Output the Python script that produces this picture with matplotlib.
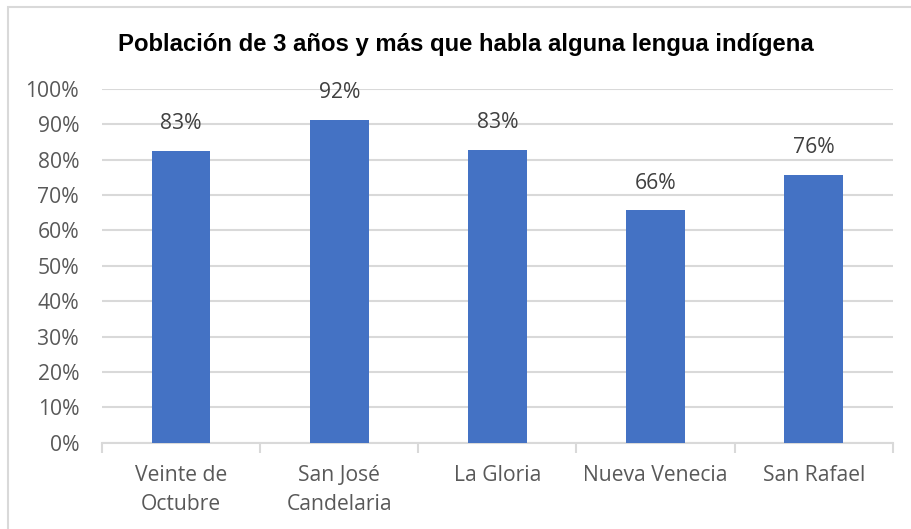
import numpy as np
import matplotlib
matplotlib.use('Agg')
import matplotlib.pyplot as plt
from matplotlib.patches import Rectangle

# data
localidades = ['Veinte de\nOctubre', 'San José\nCandelaria', 'La Gloria', 'Nueva Venecia', 'San Rafael']
porcentajes = [0.824, 0.912, 0.828, 0.657, 0.758]
etiquetas = ['83%', '92%', '83%', '66%', '76%']
yticks = [0, 0.1, 0.2, 0.3, 0.4, 0.5, 0.6, 0.7, 0.8, 0.9, 1.0]

gris = '#595959'
azul = '#4472C4'
fuente = 'Open Sans'

fig = plt.figure(figsize=(9.11, 5.29), dpi=100)
ax = fig.add_axes([0.112, 0.163, 0.868, 0.669])

x = np.arange(len(localidades))
ax.bar(x, porcentajes, width=0.37, color=azul, zorder=3)

for xi, v, t in zip(x, porcentajes, etiquetas):
    ax.annotate(t, (xi, v), xytext=(0, 12), textcoords='offset points',
                ha='center', va='bottom', fontsize=15.2, color='#404040', fontname=fuente)

ax.set_xlim(-0.5, len(localidades) - 0.5)
ax.set_ylim(0, 1.0)
ax.set_yticks(yticks)
ax.set_yticklabels(['{:.0f}%'.format(v * 100) for v in yticks], fontname=fuente, fontsize=15.2, color=gris)
ax.yaxis.grid(True, color='#D9D9D9', linewidth=1.5, zorder=0)
ax.tick_params(axis='y', length=0, pad=16.5)

ax.set_xticks(x)
ax.set_xticklabels(localidades, fontname=fuente, fontsize=15.2, color=gris, linespacing=1.5)
ax.set_xticks(np.arange(-0.5, len(localidades)), minor=True)
ax.tick_params(axis='x', which='major', length=0, pad=16)
ax.tick_params(axis='x', which='minor', length=7, width=1.5, color='#D9D9D9')

for s in ['top', 'right', 'left']:
    ax.spines[s].set_visible(False)
ax.spines['bottom'].set_color('#D9D9D9')
ax.spines['bottom'].set_linewidth(1.5)

fig.text(0.511, 0.916, 'Población de 3 años y más que habla alguna lengua indígena',
         ha='center', va='center', fontsize=17.2, fontweight='bold',
         fontname='Liberation Sans', color='black')

# light border around chart area
fig.patches.append(Rectangle((8 / 911, -0.05), 1.1, 1 - 7 / 529 + 0.05,
                             transform=fig.transFigure, fill=False,
                             edgecolor='#D9D9D9', linewidth=1.5))

fig.savefig('out.png', dpi=100)
